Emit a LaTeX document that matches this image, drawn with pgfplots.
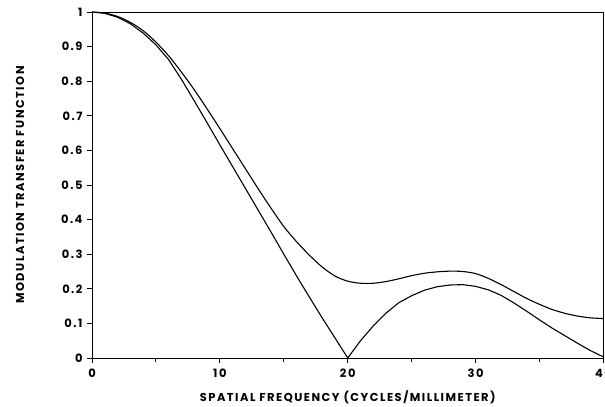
\documentclass[border=0pt]{standalone}
\usepackage{pgfplots}
\pgfplotsset{compat=1.18}
\usetikzlibrary{calc}
\usepackage{fontspec}
\setmainfont{Poppins}
\newfontfamily\labfont[LetterSpace=13]{Poppins}
\begin{document}
\begin{tikzpicture}
\begin{axis}[
  scale only axis, width=511.5bp, height=346bp,
  xmin=0, xmax=40, ymin=0, ymax=1,
  xtick={0,10,20,30,40}, minor xtick={5,15,25,35},
  ytick={0,0.1,0.2,0.3,0.4,0.5,0.6,0.7,0.8,0.9,1},
  yticklabels={0,0.1,0.2,0.3,0.4,0.5,0.6,0.7,0.8,0.9,1},
  tick align=outside, xtick pos=left, ytick pos=left,
  major tick length=5bp, minor tick length=4bp,
  tick style={black, line width=0.9pt},
  axis line style={line width=0.9pt},
  /pgf/number format/assume math mode=true,
  ticklabel style={font=\labfont\bfseries\fontsize{11.5}{13}\selectfont},
  xticklabel style={yshift=-2bp},
  yticklabel style={xshift=-1bp},
  xlabel={SPATIAL FREQUENCY (CYCLES/MILLIMETER)},
  ylabel={MODULATION TRANSFER FUNCTION},
  every axis x label/.style={at={(axis description cs:0.5,-0.1127)}, anchor=center, font=\labfont\bfseries\fontsize{11.5}{13}\selectfont},
  every axis y label/.style={at={(axis description cs:-0.1408,0.5)}, anchor=center, rotate=90, font=\labfont\bfseries\fontsize{11.5}{13}\selectfont},
]
\addplot[black, line width=1.1pt] table {
0 1.000
1 0.996
2 0.985
3 0.966
4 0.939
5 0.905
6 0.862
7 0.805
8 0.743
9 0.680
10 0.616
11 0.553
12 0.490
13 0.427
14 0.364
15 0.300
16 0.237
17 0.176
18 0.116
19 0.058
20 0.000
21 0.050
22 0.093
23 0.130
24 0.160
25 0.180
26 0.196
27 0.206
28 0.211
29 0.212
30 0.207
31 0.197
32 0.181
33 0.159
34 0.135
35 0.110
36 0.086
37 0.064
38 0.042
39 0.021
40 0.003
};
\addplot[black, line width=1.1pt, smooth] table {
0 1.000
1 0.997
2 0.987
3 0.970
4 0.946
5 0.913
6 0.873
7 0.826
8 0.775
9 0.720
10 0.663
11 0.605
12 0.547
13 0.489
14 0.433
15 0.380
16 0.336
17 0.297
18 0.263
19 0.237
20 0.222
21 0.216
22 0.216
23 0.221
24 0.229
25 0.238
26 0.245
27 0.249
28 0.251
29 0.250
30 0.244
31 0.230
32 0.212
33 0.192
34 0.172
35 0.155
36 0.140
37 0.129
38 0.121
39 0.116
40 0.114
};
\end{axis}
\pgfresetboundingbox
\path ($(current axis.south west)+(-92bp,-49bp)$) rectangle ($(current axis.north east)+(1.5bp,12bp)$);
\end{tikzpicture}
\end{document}
